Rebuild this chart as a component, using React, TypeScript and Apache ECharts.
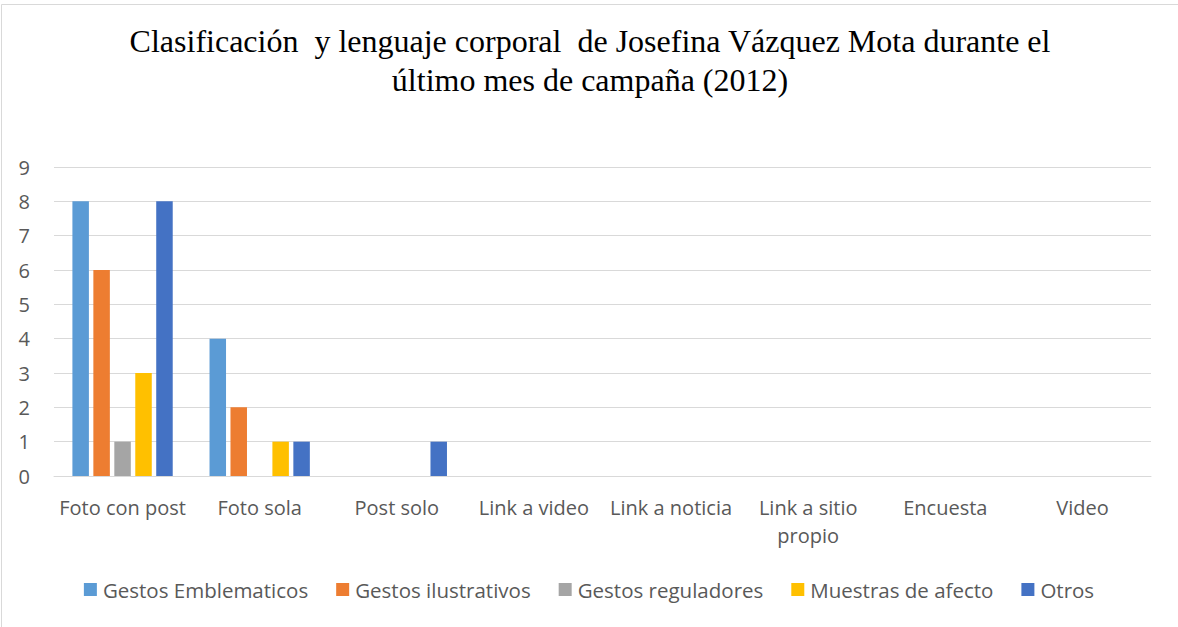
import React, { useEffect, useRef } from "react";
import * as echarts from "echarts";

const categories = [
  "Foto con post",
  "Foto sola",
  "Post solo",
  "Link a video",
  "Link a noticia",
  "Link a sitio\npropio",
  "Encuesta",
  "Video",
];
const seriesNames = [
  "Gestos Emblematicos",
  "Gestos ilustrativos",
  "Gestos reguladores",
  "Muestras de afecto",
  "Otros",
];
const emblematicos = [8, 4, 0, 0, 0, 0, 0, 0];
const ilustrativos = [6, 2, 0, 0, 0, 0, 0, 0];
const reguladores = [1, 0, 0, 0, 0, 0, 0, 0];
const afecto = [3, 1, 0, 0, 0, 0, 0, 0];
const otros = [8, 1, 1, 0, 0, 0, 0, 0];
const colors = ["#5B9BD5", "#ED7D31", "#A5A5A5", "#FFC000", "#4472C4"];
const titleText =
  "Clasificación  y lenguaje corporal  de Josefina Vázquez Mota durante el\núltimo mes de campaña (2012)";

export default function App() {
  const ref = useRef<HTMLDivElement>(null);
  useEffect(() => {
    if (!ref.current) return;
    const chart = echarts.init(ref.current, null, { renderer: "svg" });
    const values = [emblematicos, ilustrativos, reguladores, afecto, otros];
    chart.setOption({
      animation: false,
      color: colors,
      graphic: [
        {
          type: "rect",
          shape: { x: 1.5, y: 4.5, width: 1300, height: 800 },
          style: { fill: "none", stroke: "#d9d9d9", lineWidth: 1 },
          silent: true,
        },
        {
          type: "text",
          x: 590,
          y: 22,
          silent: true,
          style: {
            text: titleText,
            align: "center",
            verticalAlign: "top",
            fontFamily: "Liberation Serif",
            fontSize: 32,
            lineHeight: 38.5,
            fill: "#000000",
          },
        },
      ],
      legend: {
        bottom: 22,
        left: "center",
        icon: "rect",
        itemWidth: 13,
        itemHeight: 13,
        itemGap: 28,
        textStyle: { fontFamily: "Open Sans", fontSize: 20.5, color: "#595959", padding: [0, 0, 0, 1] },
        data: seriesNames,
      },
      grid: { left: 54, right: 27, top: 167, bottom: 151, containLabel: false },
      xAxis: {
        type: "category",
        data: categories,
        axisLine: { lineStyle: { color: "#d9d9d9", width: 1 } },
        axisTick: { show: false },
        axisLabel: {
          fontFamily: "Open Sans",
          fontSize: 20,
          color: "#595959",
          margin: 17,
          lineHeight: 28.5,
          interval: 0,
        },
      },
      yAxis: {
        type: "value",
        min: 0,
        max: 9,
        interval: 1,
        axisLine: { show: false },
        axisTick: { show: false },
        splitLine: { lineStyle: { color: "#d9d9d9", width: 1 } },
        axisLabel: {
          fontFamily: "Open Sans",
          fontSize: 20,
          color: "#595959",
          margin: 24,
        },
      },
      series: seriesNames.map((name, i) => ({
        name,
        type: "bar",
        data: values[i],
        barWidth: 16.5,
        barGap: "27%",
        itemStyle: { color: colors[i] },
      })),
    });
    return () => chart.dispose();
  }, []);
  return (
    <div
      ref={ref}
      style={{ position: "absolute", left: 0, top: 0, width: 1178, height: 627, background: "#fff" }}
    />
  );
}
